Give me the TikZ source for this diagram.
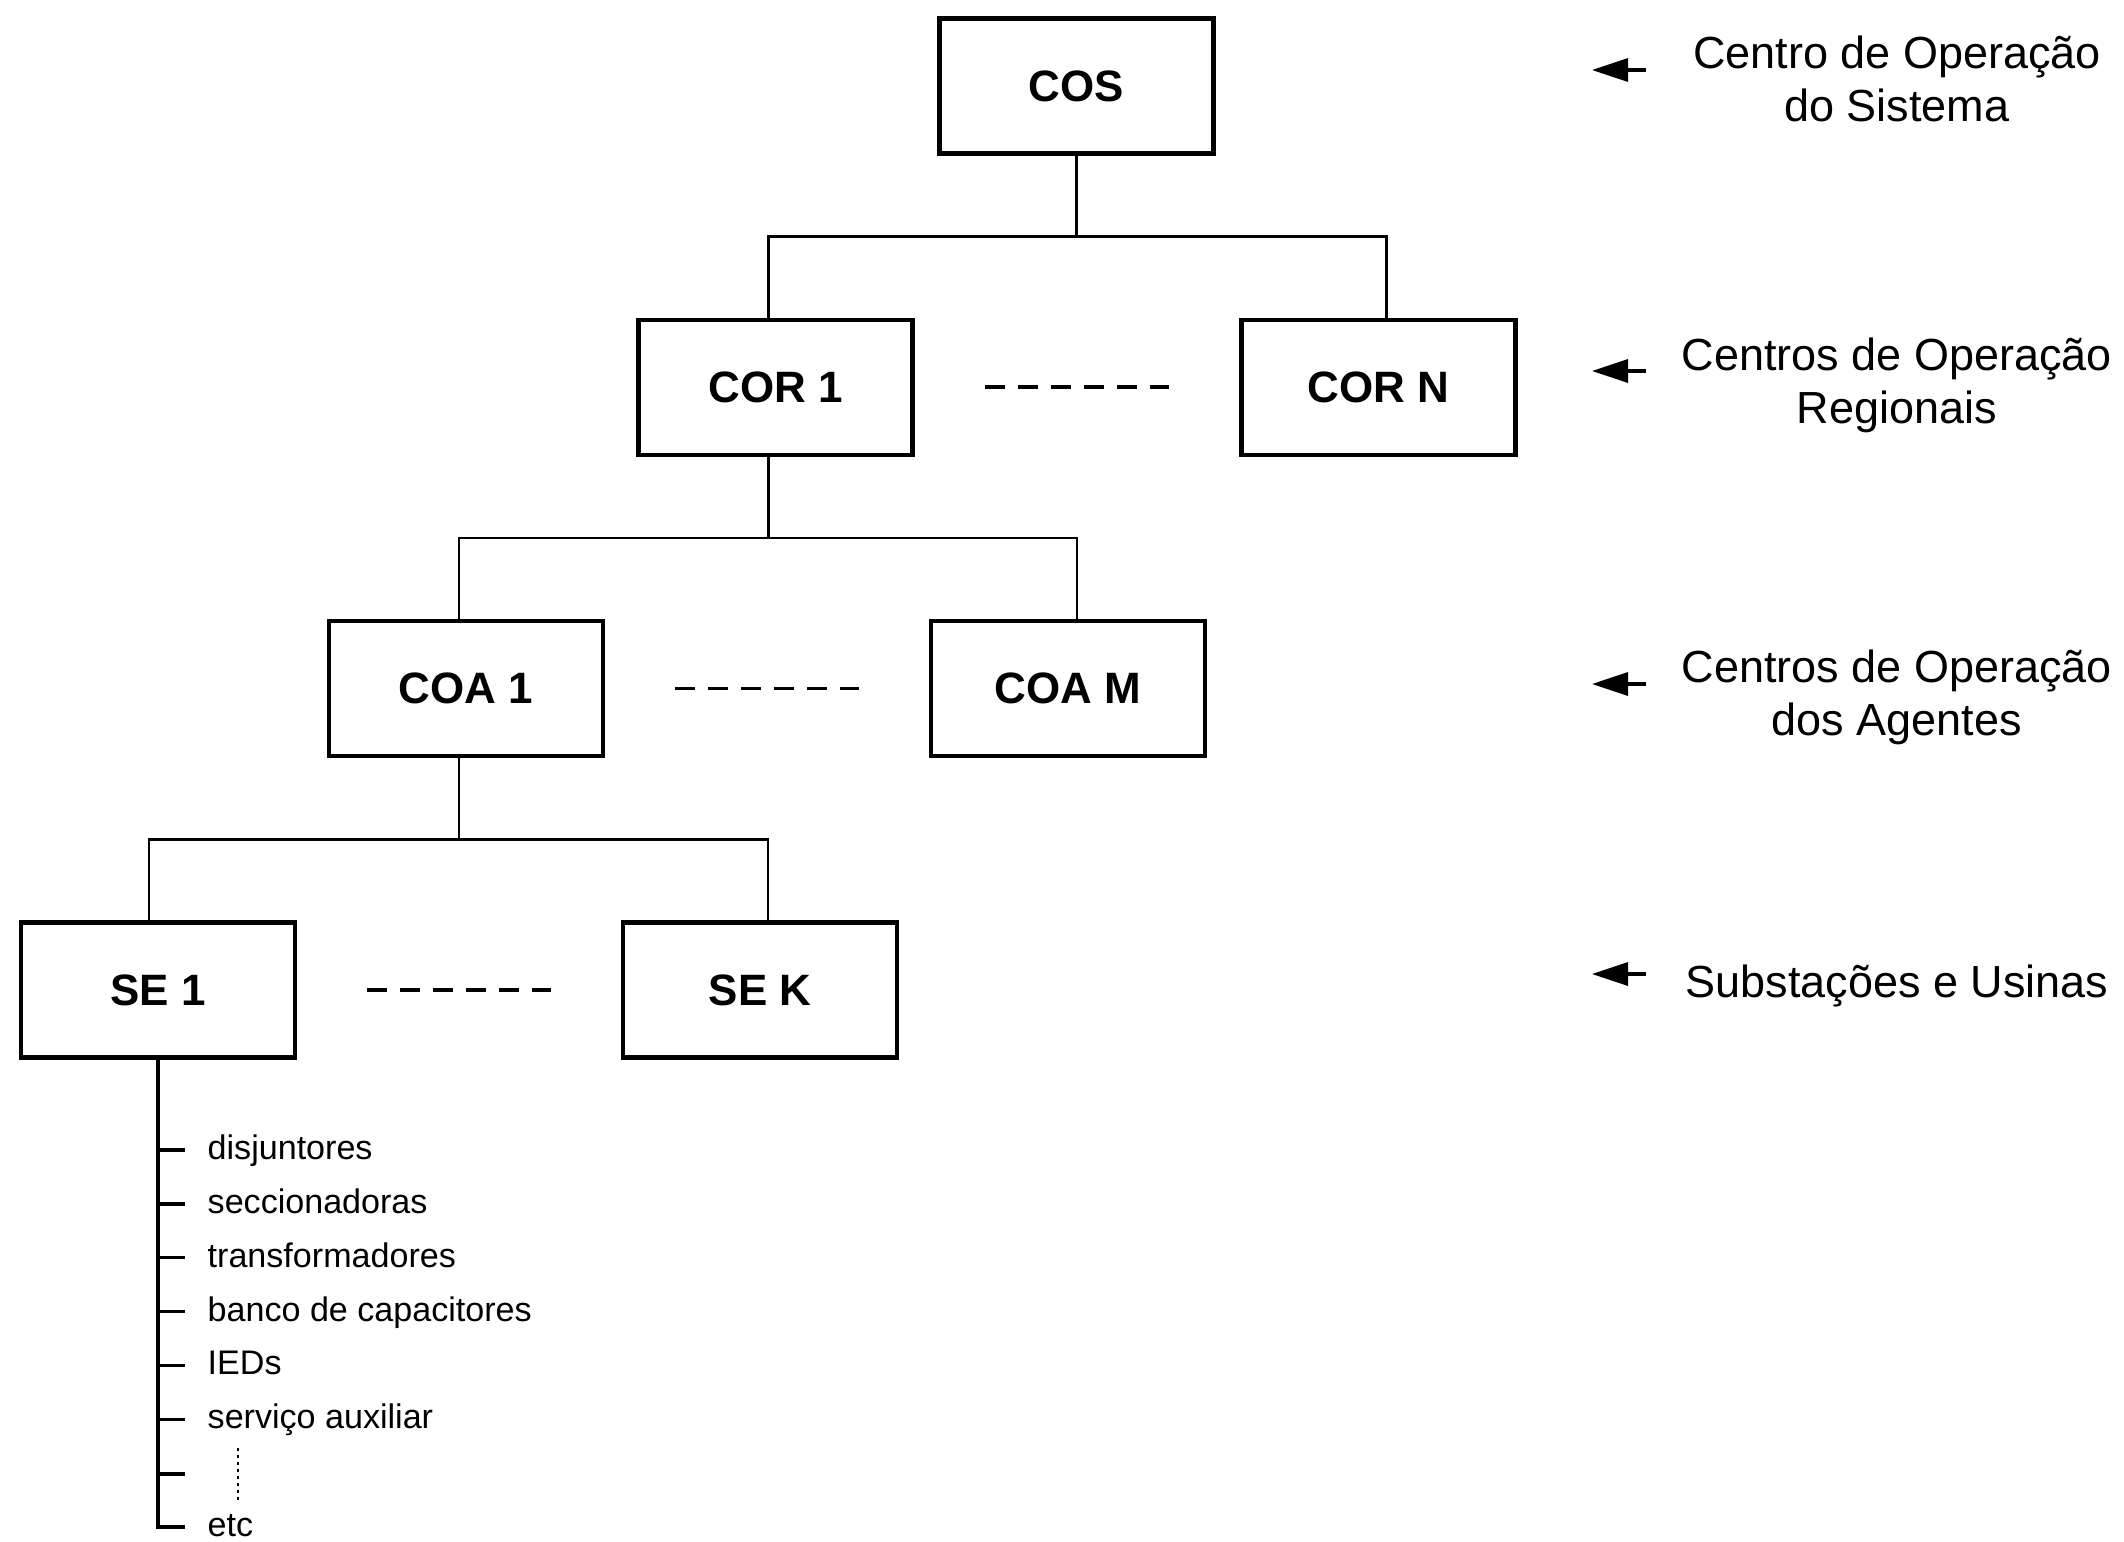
\documentclass[tikz,border=0pt]{standalone}
\usepackage{fontspec}
\setmainfont{Liberation Sans}
\usepackage{tikz}
\usetikzlibrary{arrows.meta, positioning, calc}
\tikzset{
  lvlbox/.style={rectangle, draw=black, line width=1.25pt, fill=white,
    font=\fontsize{12.5}{15}\selectfont\bfseries, minimum width=2.74cm,
    minimum height=1.35cm, inner sep=0pt},
  link/.style={line width=0.7pt},
  gapdash/.style={line width=1.05pt, dash pattern=on 0.2cm off 0.13cm,
    shorten <=0.7cm, shorten >=0.7cm},
  lvlarr/.style={-{Triangle[length=0.36cm,width=0.23cm]}, line width=1pt},
  lvllbl/.style={font=\fontsize{12.8}{15.1}\selectfont, align=center, inner sep=0pt},
  itemlbl/.style={font=\fontsize{9.7}{11.6}\selectfont, anchor=mid west, inner sep=0pt},
  branch/.style={line width=0.95pt},
  vdots/.style={line width=0.7pt, dash pattern=on 0.035cm off 0.035cm},
}
\begin{document}
\begin{tikzpicture}[x=1cm, y=1cm]
\useasboundingbox (0,0) rectangle (21.24,-15.41);
\def\yA{-0.86}\def\dY{3.013}\def\dB{0.81}
% hierarquia
\node[lvlbox] (cos)  at (10.765, \yA) {COS};
\node[lvlbox] (cor1) at (7.755, \yA-\dY) {COR 1};
\node[lvlbox] (corn) at (13.785, \yA-\dY) {COR N};
\node[lvlbox] (coa1) at (4.66, \yA-2*\dY) {COA 1};
\node[lvlbox] (coam) at (10.68, \yA-2*\dY) {COA M};
\node[lvlbox] (se1)  at (1.58, \yA-3*\dY) {SE 1};
\node[lvlbox] (sek)  at (7.60, \yA-3*\dY) {SE K};
\draw[link] (cos.south) -- ++(0,-\dB) -| ([xshift=-0.07cm]cor1.north);
\draw[link] (cos.south) -- ++(0,-\dB) -| ([xshift=0.08cm]corn.north);
\draw[link] ([xshift=-0.07cm]cor1.south) -- ++(0,-\dB) -| ([xshift=-0.07cm]coa1.north);
\draw[link] ([xshift=-0.07cm]cor1.south) -- ++(0,-\dB) -| ([xshift=0.09cm]coam.north);
\draw[link] ([xshift=-0.07cm]coa1.south) -- ++(0,-\dB) -| ([xshift=-0.09cm]se1.north);
\draw[link] ([xshift=-0.07cm]coa1.south) -- ++(0,-\dB) -| ([xshift=0.08cm]sek.north);
\draw[gapdash] (cor1) -- (corn);
\draw[gapdash] (coa1) -- (coam);
\draw[gapdash] (se1) -- (sek);
% equipamentos da SE
\foreach \txt [count=\i] in {disjuntores, seccionadoras, transformadores,
    banco de capacitores, IEDs, serviço auxiliar}
  \node[itemlbl] (it\i) at (2.07, {-11.50-0.539*(\i-1)}) {\txt};
\coordinate (it7) at (2.07, -14.74);
\node[itemlbl] (it8) at (2.07, -15.27) {etc};
\draw[branch, shorten >=0.22cm] (se1.south) |- (it8.mid west);
\foreach \i in {1,...,6}
  \draw[branch, shorten >=0.22cm] (se1.south |- it\i.mid west) -- (it\i.mid west);
\draw[branch, shorten >=0.22cm] (se1.south |- it7) -- (it7);
\draw[vdots] ([shift={(0.31,0.265)}]it7) -- ([shift={(0.31,-0.265)}]it7);
% niveis
\node[lvllbl] (lv1) at (18.97, -0.79) {Centro de Operação\\do Sistema};
\node[lvllbl] (lv2) at (18.97, -3.85) {Centros de Operação\\Regionais};
\node[lvllbl] (lv3) at (18.97, -6.97) {Centros de Operação\\dos Agentes};
\node[lvllbl] (lv4) at (18.97, -9.86) {Substações e Usinas};
\foreach \i/\yy in {1/-0.70, 2/-3.71, 3/-6.84, 4/-9.74}
{\coordinate (tip\i) at (15.92, \yy);
 \draw[lvlarr] ([xshift=0.54cm]tip\i) -- (tip\i);}
\end{tikzpicture}
\end{document}
